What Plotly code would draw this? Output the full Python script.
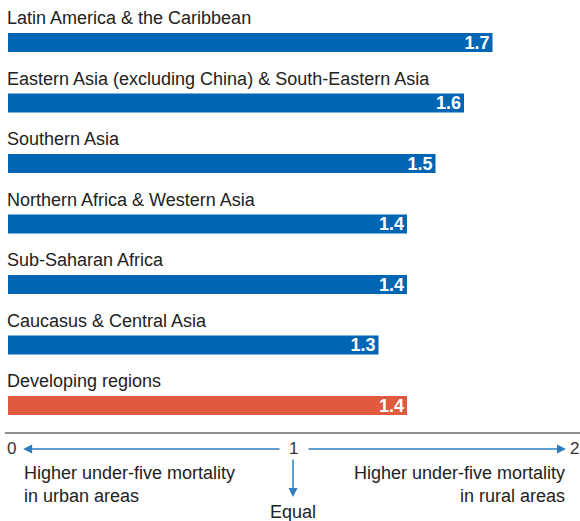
import plotly.graph_objects as go

regions = [
    "Latin America & the Caribbean",
    "Eastern Asia (excluding China) & South-Eastern Asia",
    "Southern Asia",
    "Northern Africa & Western Asia",
    "Sub-Saharan Africa",
    "Caucasus & Central Asia",
    "Developing regions",
]
ratios = [1.7, 1.6, 1.5, 1.4, 1.4, 1.3, 1.4]
bar_colors = ["#0066B3"] * 6 + ["#E05A3F"]
tick_vals = [0, 1, 2]
tick_text = ["0", "1", "2"]
left_note = "Higher under-five mortality<br>in urban areas"
right_note = "Higher under-five mortality<br>in rural areas"
equal_note = "Equal"

W, H = 580, 521
PLOT_H = 433
FONT = "Liberation Sans"
ARROW = "#2E7DC0"

def py(p):
    return (PLOT_H - p) / PLOT_H

ys = list(range(len(regions)))

fig = go.Figure()
fig.add_trace(go.Bar(
    y=ys, x=ratios, orientation="h", width=0.314,
    marker=dict(color=bar_colors, line=dict(width=0)),
    text=[f"{v:.1f}" for v in ratios], textposition="inside",
    insidetextanchor="end", constraintext="none",
    textfont=dict(color="white", size=18, family=FONT),
    texttemplate="<b>%{text}</b>",
    hoverinfo="skip",
))

annotations = []
for i, name in enumerate(regions):
    annotations.append(dict(
        x=0, y=i - 0.405, xref="x", yref="y", text=name, showarrow=False,
        xanchor="left", yanchor="middle", xshift=-3,
        font=dict(size=18, color="#222222", family=FONT),
    ))

for v, t in zip(tick_vals, tick_text):
    annotations.append(dict(
        x=v, y=py(448), xref="x", yref="paper", text=t, showarrow=False,
        xanchor="center", yanchor="middle", xshift=(3 if v == 0 else (-4 if v == 2 else 0)),
        font=dict(size=17, color="#333333", family=FONT),
    ))

# horizontal arrows
annotations.append(dict(x=0.053, y=py(449), xref="x", yref="paper",
                        ax=0.958, ay=0, axref="x", ayref="pixel", text="",
                        showarrow=True, arrowhead=2, arrowsize=1.2,
                        arrowwidth=1.5, arrowcolor=ARROW))
annotations.append(dict(x=1.958, y=py(449), xref="x", yref="paper",
                        ax=1.049, ay=0, axref="x", ayref="pixel", text="",
                        showarrow=True, arrowhead=2, arrowsize=1.2,
                        arrowwidth=1.5, arrowcolor=ARROW))
annotations.append(dict(x=1, y=py(497), xref="x", yref="paper",
                        ax=0, ay=-39, text="",
                        showarrow=True, arrowhead=2, arrowsize=1.2,
                        arrowwidth=1.5, arrowcolor=ARROW))

annotations.append(dict(x=0.05, y=py(484), xref="x", yref="paper",
                        text=left_note, showarrow=False, xanchor="left",
                        yanchor="middle", align="left",
                        font=dict(size=18, color="#222222", family=FONT)))
annotations.append(dict(x=1.96, y=py(484), xref="x", yref="paper",
                        text=right_note, showarrow=False, xanchor="right",
                        yanchor="middle", align="right",
                        font=dict(size=18, color="#222222", family=FONT)))
annotations.append(dict(x=1, y=py(512), xref="x", yref="paper",
                        text=equal_note, showarrow=False, xanchor="center",
                        yanchor="middle",
                        font=dict(size=18, color="#222222", family=FONT)))

fig.update_layout(
    width=W, height=H,
    margin=dict(l=8, r=2, t=0, b=H - PLOT_H, pad=0),
    paper_bgcolor="white", plot_bgcolor="white",
    showlegend=False,
    xaxis=dict(range=[0, 2], visible=False, fixedrange=True),
    yaxis=dict(range=[(PLOT_H - 42.5) / 60.5, -42.5 / 60.5], visible=False,
               fixedrange=True),
    annotations=annotations,
    shapes=[dict(type="line", xref="paper", yref="paper",
                 x0=-3 / 570, x1=1 + 2 / 570, y0=0, y1=0,
                 line=dict(color="#222222", width=1.2))],
    uniformtext=dict(mode=False),
)

fig.write_html(
    "out.html",
    config={"displayModeBar": False},
    post_script="document.body.style.margin='0';document.body.style.overflow='hidden';",
)
